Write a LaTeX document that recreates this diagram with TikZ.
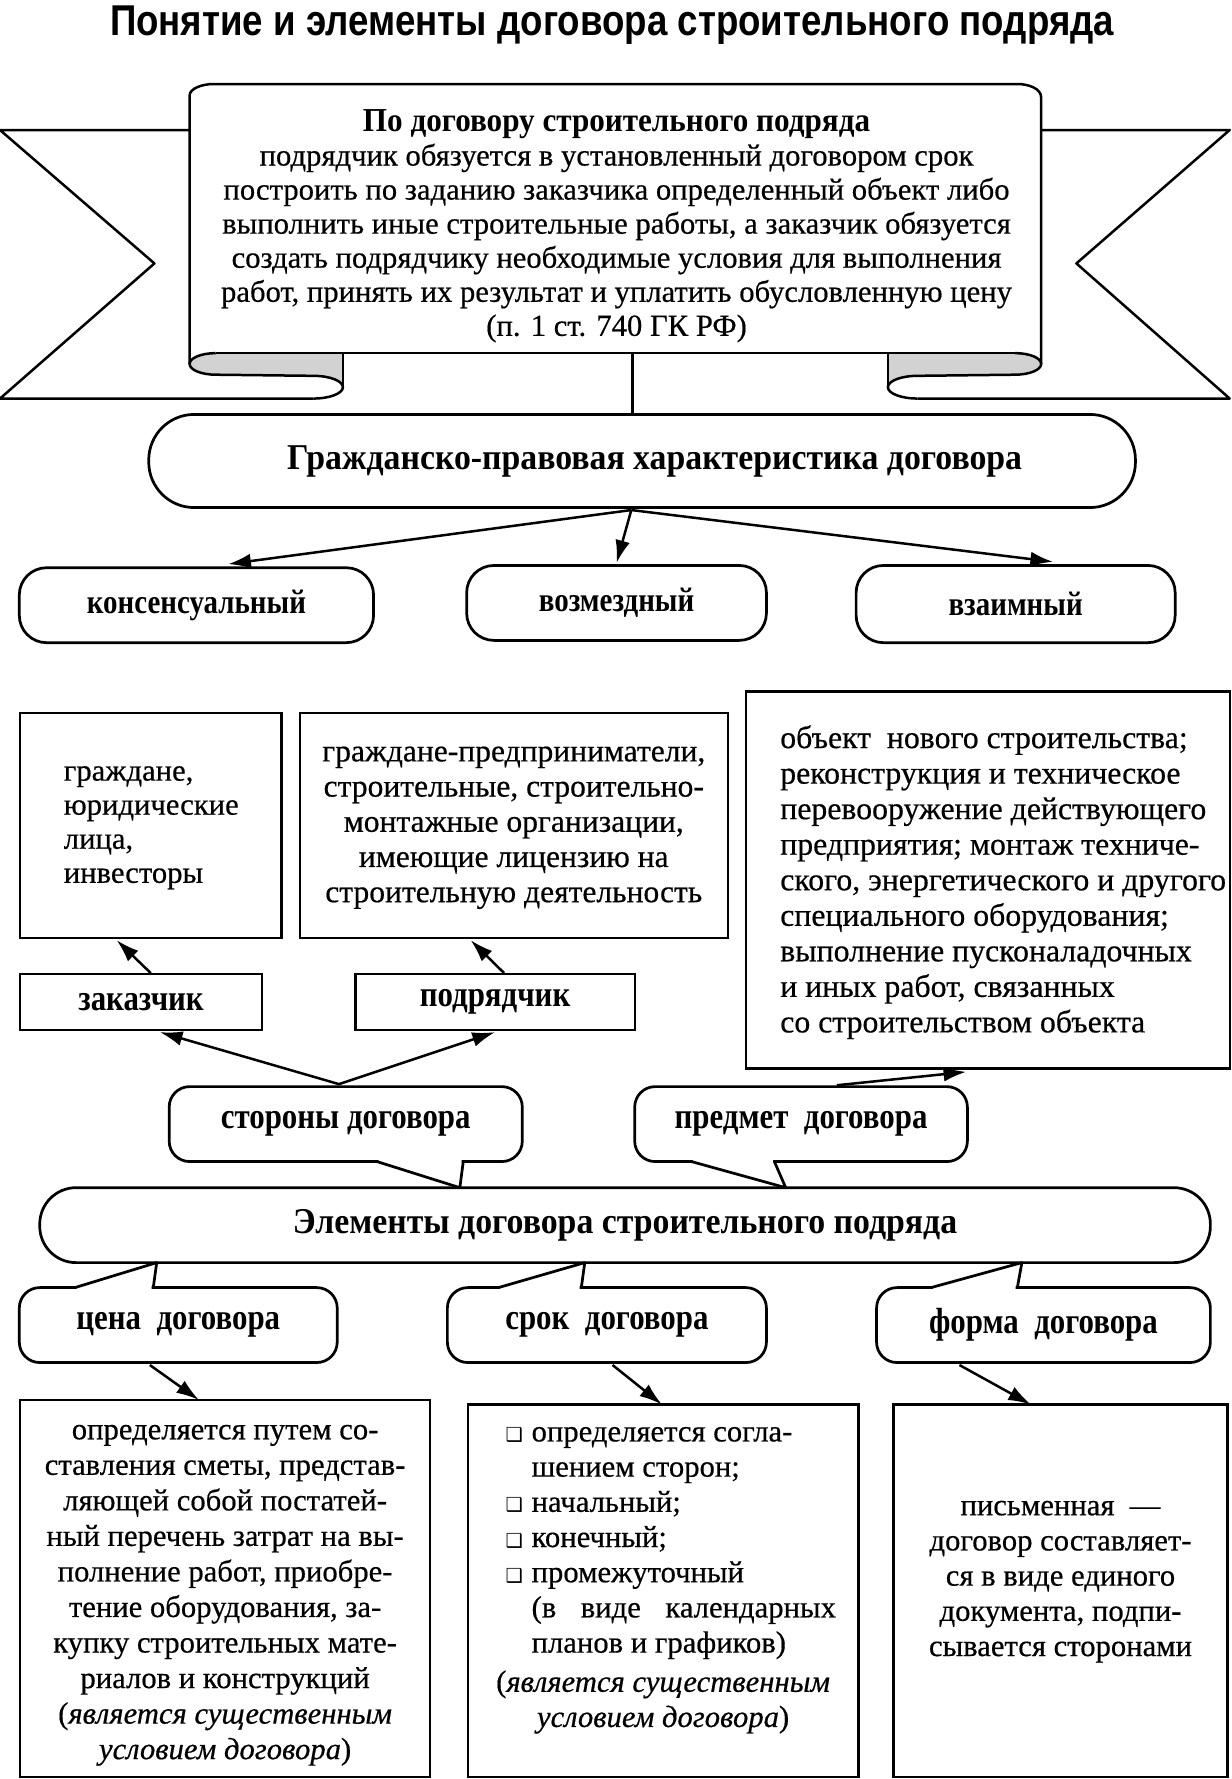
\documentclass[tikz,border=0pt]{standalone}
\usepackage{fontspec}
\setmainfont{Liberation Serif}
\newfontfamily\bodyfont{Liberation Serif}[FakeBold=0.5]
\newfontfamily\titlefont{Liberation Sans}[FakeStretch=0.85]
\newfontfamily\headfont{Liberation Serif}[FakeStretch=0.85]
\newfontfamily\bigheadfont{Liberation Serif}[FakeStretch=0.93]
\newfontfamily\symfont{DejaVu Sans}
\usetikzlibrary{arrows.meta,calc}
\newcommand{\sqbul}{\makebox[23pt][l]{\symfont\fontsize{17}{17}\selectfont ❑}}
\tikzset{
  box/.style={draw, line width=2pt, fill=white, inner sep=0pt},
  pill/.style={draw, line width=2.4pt, fill=white, rounded corners=#1, inner sep=0pt},
  pill/.default=22pt,
  bubble/.style={draw, line width=2.4pt, fill=white, rounded corners=18pt, inner sep=0pt},
  tailside/.style={line width=2.4pt, line join=round, line cap=round},
  arr/.style={line width=2.2pt, -{Latex[length=20pt,width=13pt]}},
  band/.style={line width=2.2pt, line join=round},
  body/.style={font=\bodyfont\fontsize{27}{30}\selectfont, inner sep=0pt},
  head/.style={font=\headfont\bfseries\fontsize{32}{34}\selectfont},
  bighead/.style={font=\bigheadfont\bfseries\fontsize{32}{34}\selectfont},
}
\begin{document}
\begin{tikzpicture}[x=1pt,y=-1pt]
\useasboundingbox (0,0) rectangle (1085,1566.8);

% ---------- title
\node[inner sep=0pt, font=\titlefont\bfseries\fontsize{38}{40}\selectfont] (title) at (539,22) {Понятие и элементы договора строительного подряда};

% ---------- banner
\draw[band] (167,114.5) -- (0,114.5) -- (136,232) -- (0,351) -- (276,351);
\draw[band] (917,114.5) -- (1083,114.5) -- (948,232) -- (1083,351) -- (808,351);
\fill[gray!35] (190,311) -- (302,311) -- (302,341) .. controls (302,335.5) and (290.4,331) .. (276,331) -- (190,330) .. controls (177.3,330) and (167,325.75) .. (167,320.5) .. controls (167,315.25) and (177.3,311) .. (190,311) -- cycle;
\fill[gray!35] (894,311) -- (782,311) -- (782,341) .. controls (782,335.5) and (793.6,331) .. (808,331) -- (894,330) .. controls (906.7,330) and (917,325.75) .. (917,320.5) .. controls (917,315.25) and (906.7,311) .. (894,311) -- cycle;
\draw[band] (167,320.5) -- (167,84) .. controls (167,78) and (178,74) .. (188,74) -- (896,74) .. controls (906,74) and (917,78) .. (917,86) -- (917,320.5);
\draw[band] (190,311) -- (894,311);
\draw[band] (190,311) .. controls (177.3,311) and (167,315.25) .. (167,320.5) .. controls (167,325.75) and (177.3,330) .. (190,330) -- (276,331) .. controls (290.4,331) and (302,335.5) .. (302,341) .. controls (302,346.5) and (290.4,351) .. (276,351);
\draw[band] (302,311) -- (302,341);
\draw[band] (894,311) .. controls (906.7,311) and (917,315.25) .. (917,320.5) .. controls (917,325.75) and (906.7,330) .. (894,330) -- (808,331) .. controls (793.6,331) and (782,335.5) .. (782,341) .. controls (782,346.5) and (793.6,351) .. (808,351);
\draw[band] (782,311) -- (782,341);

\node[body, align=center] (bannertext) at (543,199) {{\bigheadfont\bfseries\fontsize{29.5}{30}\selectfont По договору строительного подряда}\\
подрядчик обязуется в установленный договором срок\\
построить по заданию заказчика определенный объект либо\\
выполнить иные строительные работы, а заказчик обязуется\\
создать подрядчику необходимые условия для выполнения\\
работ, принять их результат и уплатить обусловленную цену\\
(п. 1 ст. 740 ГК РФ)};
\coordinate (bannerbottom) at (557,311);

% ---------- civil-law characteristic
\node[pill=40pt, bighead, minimum width=869pt, minimum height=82pt] (gpx) at (565.5,406) {\hspace*{22pt}Гражданско-правовая характеристика договора};
\draw[band] (bannerbottom) -- (gpx.north -| bannerbottom);

\node[pill=24pt, head, font=\headfont\bfseries\fontsize{30}{32}\selectfont, minimum width=312pt, minimum height=66pt] (kons) at (173,533) {консенсуальный};
\node[pill=24pt, head, font=\headfont\bfseries\fontsize{30}{32}\selectfont, minimum width=264pt, minimum height=66pt] (vozm) at (543,531) {возмездный};
\node[pill=24pt, head, font=\headfont\bfseries\fontsize{30}{32}\selectfont, minimum width=281pt, minimum height=68pt] (vzaim) at (894.5,532) {взаимный};

\coordinate (gs) at ($(gpx.south)+(-9.5,1)$);
\draw[arr] (gs) -- ($(kons.north)+(28,-2)$);
\draw[arr] (gs) -- ($(vozm.north)+(0,-1)$);
\draw[arr] (gs) -- ($(vzaim.north)+(33,-2)$);

% ---------- parties and subject
\node[box, minimum width=230.5pt, minimum height=198pt] (cust) at (132.75,727) {};
\node[box, minimum width=377pt, minimum height=198pt] (contr) at (452.5,727) {};
\node[body, align=left, anchor=west] (custtext) at (56,729) {граждане,\\юридические\\лица,\\инвесторы};
\node[body, font=\bodyfont\fontsize{27.8}{31}\selectfont, align=center] (contrtext) at (452.5,729) {граждане-предприниматели,\\строительные, строительно-\\монтажные организации,\\имеющие лицензию на\\строительную деятельность};

\node[box, head, minimum width=213.5pt, minimum height=49pt] (zak) at (124.25,882.5) {заказчик};
\node[box, head, minimum width=246pt, minimum height=49pt] (pod) at (436,882.5) {подрядчик};
\draw[arr] ($(zak.north)+(8.5,0)$) -- ($(cust.south)+(-30,1)$);
\draw[arr] ($(pod.north)+(8,0)$) -- ($(contr.south)+(-38,1)$);

\node[box, minimum width=426pt, minimum height=332pt] (subj) at (870,775) {};
\node[body, font=\bodyfont\fontsize{28}{31.3}\selectfont, align=left, anchor=west] (subjtext) at (687,777) {объект\ \ нового строительства;\\реконструкция и техническое\\перевооружение действующего\\предприятия; монтаж техниче-\\ского, энергетического и другого\\специального оборудования;\\выполнение пусконаладочных\\и иных работ, связанных\\со строительством объекта};

% ---------- elements pill
\node[pill=32pt, bighead, minimum width=1031pt, minimum height=66pt] (elem) at (550.5,1079) {Элементы договора строительного подряда};

% top bubbles
\node[bubble, head, minimum width=311pt, minimum height=66pt] (stor) at (304.5,990) {стороны договора};
\fill[white] (333.5,1021) -- (406.5,1021) -- (406.5,1024) -- (405,1044) -- (333.5,1024) -- cycle;
\draw[tailside] (332,1023) -- (405,1046) -- (408,1023);

\node[bubble, head, minimum width=293pt, minimum height=66pt] (pred) at (705.5,990) {предмет\ \ договора};
\fill[white] (610.5,1021) -- (681,1021) -- (681,1024) -- (690,1044) -- (610.5,1024) -- cycle;
\draw[tailside] (609,1023) -- (692,1046) -- (682,1023);

\draw[arr] ($(stor.north)+(-6,-1)$) -- ($(zak.south)+(16.5,1)$);
\draw[arr] ($(stor.north)+(-6,-1)$) -- ($(pod.south)+(0,1)$);
\draw[arr] ($(pred.north)+(31.5,0)$) -- ($(subj.south)+(-19,2)$);

% bottom bubbles
\node[bubble, head, minimum width=280pt, minimum height=66pt] (cena) at (157,1167) {цена\ \ договора};
\fill[white] (67.5,1136) -- (133.5,1136) -- (133.5,1133) -- (138,1114) -- (67.5,1133) -- cycle;
\draw[tailside] (66,1134) -- (138,1112) -- (135,1134);

\node[bubble, head, minimum width=281pt, minimum height=66pt] (srok) at (534.5,1167) {срок\ \ договора};
\fill[white] (440.5,1136) -- (510.5,1136) -- (510.5,1133) -- (515,1114) -- (440.5,1133) -- cycle;
\draw[tailside] (439,1134) -- (515,1112) -- (512,1134);

\node[bubble, head, minimum width=294pt, minimum height=66pt] (forma) at (919,1167) {форма\ \ договора};
\fill[white] (821.5,1136) -- (894.5,1136) -- (894.5,1133) -- (900,1114) -- (821.5,1133) -- cycle;
\draw[tailside] (820,1134) -- (900,1112) -- (896,1134);

% bottom boxes
\node[box, minimum width=361.5pt, minimum height=332pt] (cenabox) at (198.25,1399) {};
\node[box, minimum width=344pt, minimum height=328pt] (srokbox) at (584,1401) {};
\node[box, minimum width=294pt, minimum height=328pt] (formabox) at (934,1401) {};

\draw[arr] ($(cena.south)+(-25,1)$) -- ($(cenabox.north)+(-23,1)$);
\draw[arr] ($(srok.south)+(5,1)$) -- ($(srokbox.north)+(-1,1)$);
\draw[arr] ($(forma.south)+(-74,1)$) -- ($(formabox.north)+(-26,1)$);

\node[body, font=\bodyfont\fontsize{27}{31.3}\selectfont, align=center] (cenatext) at (198.25,1405) {определяется путем со-\\ставления сметы, представ-\\ляющей собой постатей-\\ный перечень затрат на вы-\\полнение работ, приобре-\\тение оборудования, за-\\купку строительных мате-\\риалов и конструкций\\(\textit{является существенным}\\\textit{условием договора})};

\node[body, font=\bodyfont\fontsize{27}{31}\selectfont, align=left, anchor=west] (sroklist) at (445,1359) {\sqbul определяется согла-\\\hspace*{23pt}шением сторон;\\\sqbul начальный;\\\sqbul конечный;\\\sqbul промежуточный\\\hspace*{23pt}\makebox[268pt][s]{(в виде календарных}\\\hspace*{23pt}планов и графиков)};
\node[body, font=\bodyfont\fontsize{27}{31}\selectfont, align=center] (sroknote) at (584,1499) {(\textit{является существенным}\\\textit{условием договора})};

\node[body, font=\bodyfont\fontsize{27}{31}\selectfont, align=center] (formatext) at (934,1393) {письменная\ \ —\\договор составляет-\\ся в виде единого\\документа, подпи-\\сывается сторонами};

\end{tikzpicture}
\end{document}
